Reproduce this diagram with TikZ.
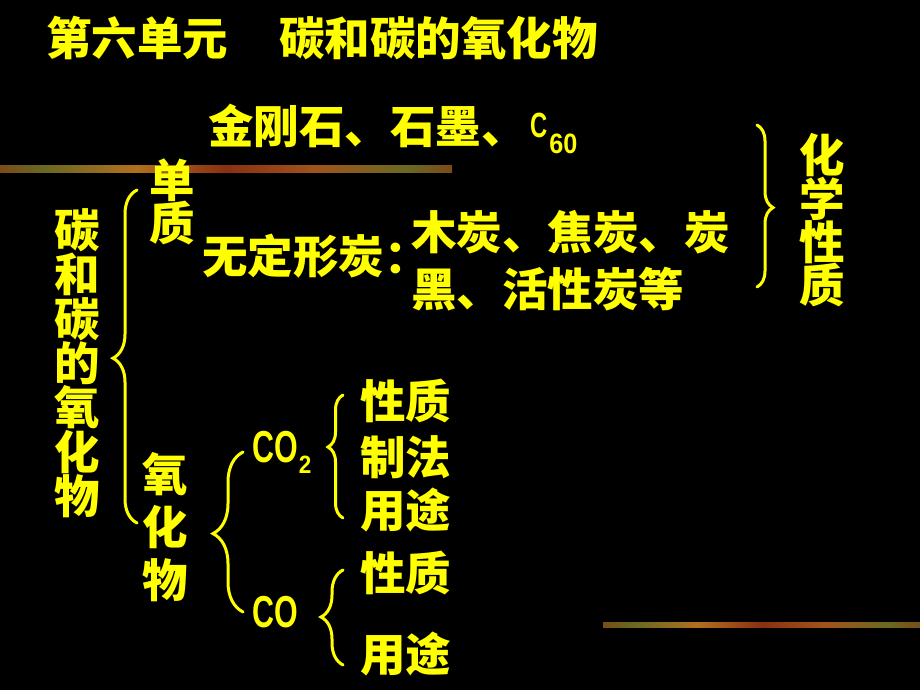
\documentclass[tikz,border=0pt]{standalone}
\usepackage{fontspec}
\setmainfont{Noto Sans CJK SC}
\newfontfamily\latinfont{Liberation Sans}
\usetikzlibrary{decorations.pathreplacing}

\definecolor{slideyellow}{RGB}{255,255,0}
\definecolor{barkA}{RGB}{176,112,30}
\definecolor{barkB}{RGB}{138,48,18}
\definecolor{barkC}{RGB}{106,104,34}
\definecolor{barkD}{RGB}{160,84,26}
\pgfdeclarehorizontalshading{bark}{100bp}{color(0bp)=(barkA); color(10bp)=(barkD); color(20bp)=(barkB); color(30bp)=(barkC); color(40bp)=(barkA); color(50bp)=(barkB); color(60bp)=(barkD); color(70bp)=(barkC); color(80bp)=(barkB); color(90bp)=(barkD); color(100bp)=(barkA)}

% narrow latin letters as on the slide
\newcommand{\narrow}[1]{\scalebox{0.68}[1]{\latinfont\bfseries #1}}
\newcommand{\subnum}[1]{\scalebox{0.9}[1]{\latinfont\bfseries #1}}

\begin{document}
\begin{tikzpicture}[x=1pt, y=-1pt,
    txt/.style={text=slideyellow, inner sep=0pt, font=\bfseries\fontsize{45.5}{46}\selectfont},
    lat/.style={text=slideyellow, inner sep=0pt, anchor=base west},
    curl/.style 2 args={draw=slideyellow, line width=3pt, line cap=round, decorate,
        decoration={brace, amplitude=#1, aspect=#2}}]
    \fill[black] (0,0) rectangle (920,690);
    \useasboundingbox (0,0) rectangle (920,690);

    % decorative bars
    \shade[shading=bark] (0,165) rectangle (452,172);
    \shade[shading=bark] (603,622) rectangle (920,627);

    % title
    \node[txt, anchor=west] (unit) at (46,38) {第六单元};
    \node[txt, anchor=west] (topic) at (279,38) {碳和碳的氧化物};

    % left column
    \foreach \c [count=\i] in {碳,和,碳,的,氧,化,物}
        \node[txt] (left\i) at (77, {186+44.3*\i}) {\c};
    \draw[curl={24pt}{0.495}] (137,523) -- (137,190);

    % elements
    \node[txt] (dan) at (172,180) {单};
    \node[txt] (zhi) at (172,223) {质};
    \node[txt, anchor=west] (gem) at (208,126) {金刚石、石墨、};
    \node[lat] (c60) at (530,137) {\fontsize{35}{36}\selectfont\narrow{C}\hspace{2pt}\raisebox{-16pt}{\fontsize{28}{29}\selectfont\subnum{60}}};
    \node[txt, anchor=west] (amor) at (202,256) {无定形炭：};
    \node[txt, anchor=west] (kinds1) at (411,232) {木炭、焦炭、炭};
    \node[txt, anchor=west] (kinds2) at (411,289) {黑、活性炭等};

    % chemical properties
    \draw[curl={16pt}{0.51}] (757,125) -- (757,287);
    \foreach \c [count=\i] in {化,学,性,质}
        \node[txt] (chem\i) at (822, {111.5+43.5*\i}) {\c};

    % oxides
    \foreach \c/\y [count=\i] in {氧/474, 化/527, 物/580}
        \node[txt] (ox\i) at (165,\y) {\c};
    \draw[curl={30pt}{0.49}] (243,612) -- (243,452);
    \node[lat] (co2) at (252,462) {\fontsize{44.7}{46}\selectfont\narrow{CO}\hspace{1pt}\raisebox{-11pt}{\fontsize{25}{26}\selectfont\subnum{2}}};
    \node[lat] (co) at (252,627) {\fontsize{44.7}{46}\selectfont\narrow{CO}};

    \draw[curl={15pt}{0.577}] (343,518) -- (343,395);
    \draw[curl={22pt}{0.505}] (343,665) -- (343,570);
    \foreach \t/\y [count=\i] in {性质/401, 制法/457, 用途/510, 性质/573, 用途/654}
        \node[txt, anchor=west] (use\i) at (360,\y) {\t};
\end{tikzpicture}
\end{document}
